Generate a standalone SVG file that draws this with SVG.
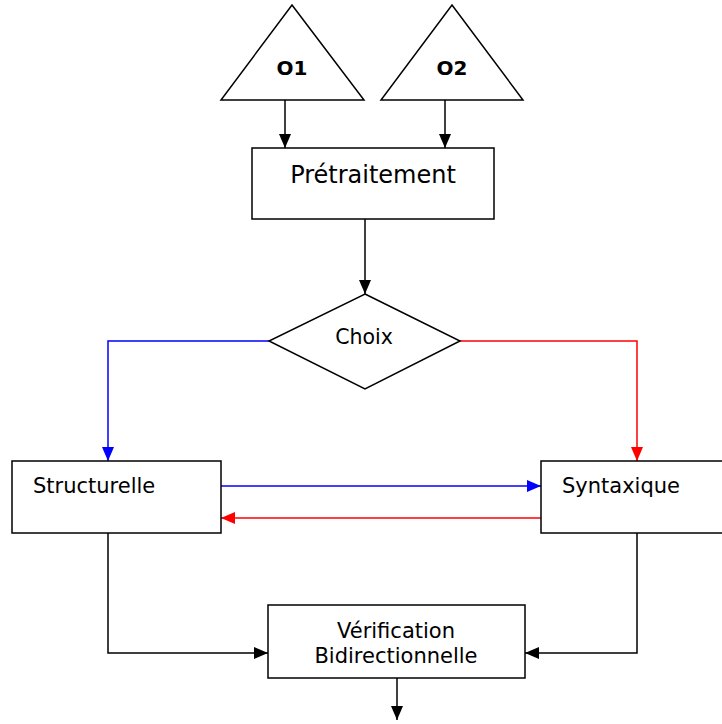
<svg xmlns="http://www.w3.org/2000/svg" width="722" height="724" viewBox="0 0 722 724">
  <style>
    .shape { fill: #ffffff; stroke: #000000; stroke-width: 1.5; }
    .lbl { font-family: "DejaVu Sans", Verdana, sans-serif; fill: #000000; text-anchor: middle; }
    .lbl-l { font-family: "DejaVu Sans", Verdana, sans-serif; fill: #000000; }
    .bold { font-weight: bold; }
    .edge { fill: none; stroke-width: 1.5; }
    .k { stroke: #000000; }
    .b { stroke: #0000ff; }
    .r { stroke: #ff0000; }
  </style>
  <defs>
    <marker id="ah-k" markerUnits="userSpaceOnUse" markerWidth="14" markerHeight="12" viewBox="0 0 14 12" refX="14" refY="6" orient="auto">
      <path d="M0,0 L14,6 L0,12 Z" fill="#000000"/>
    </marker>
    <marker id="ah-b" markerUnits="userSpaceOnUse" markerWidth="14" markerHeight="12" viewBox="0 0 14 12" refX="14" refY="6" orient="auto">
      <path d="M0,0 L14,6 L0,12 Z" fill="#0000ff"/>
    </marker>
    <marker id="ah-r" markerUnits="userSpaceOnUse" markerWidth="14" markerHeight="12" viewBox="0 0 14 12" refX="14" refY="6" orient="auto">
      <path d="M0,0 L14,6 L0,12 Z" fill="#ff0000"/>
    </marker>
  </defs>

  <g id="connectors">
    <path class="edge k" d="M285,100 V148" marker-end="url(#ah-k)"/>
    <path class="edge k" d="M445,100 V148" marker-end="url(#ah-k)"/>
    <path class="edge k" d="M365,219 V294" marker-end="url(#ah-k)"/>
    <path class="edge b" d="M269,341 H108 V461" marker-end="url(#ah-b)"/>
    <path class="edge r" d="M460,341 H637 V461" marker-end="url(#ah-r)"/>
    <path class="edge b" d="M221,486 H541" marker-end="url(#ah-b)"/>
    <path class="edge r" d="M541,518 H221" marker-end="url(#ah-r)"/>
    <path class="edge k" d="M108,533 V653 H268" marker-end="url(#ah-k)"/>
    <path class="edge k" d="M637,533 V653 H525" marker-end="url(#ah-k)"/>
    <path class="edge k" d="M397,678 V720" marker-end="url(#ah-k)"/>
  </g>

  <g id="o1">
    <polygon class="shape" points="292,5 364,100 221,100"/>
    <text class="lbl bold" x="292" y="75" font-size="20">O1</text>
  </g>
  <g id="o2">
    <polygon class="shape" points="452,5 523,100 381,100"/>
    <text class="lbl bold" x="452" y="75" font-size="20">O2</text>
  </g>

  <g id="pretraitement">
    <rect class="shape" x="252" y="148" width="242" height="71"/>
    <text class="lbl" x="373" y="183" font-size="24">Prétraitement</text>
  </g>

  <g id="choix">
    <polygon class="shape" points="365,294 460,341 365,389 269,341"/>
    <text class="lbl" x="364" y="344" font-size="20.5">Choix</text>
  </g>

  <g id="structurelle">
    <rect class="shape" x="12" y="461" width="209" height="72"/>
    <text class="lbl-l" x="33" y="493" font-size="21">Structurelle</text>
  </g>

  <g id="syntaxique">
    <rect class="shape" x="541" y="461" width="190" height="72"/>
    <text class="lbl-l" x="562" y="493" font-size="21">Syntaxique</text>
  </g>

  <g id="verification">
    <rect class="shape" x="268" y="605" width="257" height="73"/>
    <text class="lbl" x="396" y="638" font-size="21">Vérification</text>
    <text class="lbl" x="396" y="663" font-size="21">Bidirectionnelle</text>
  </g>
</svg>
